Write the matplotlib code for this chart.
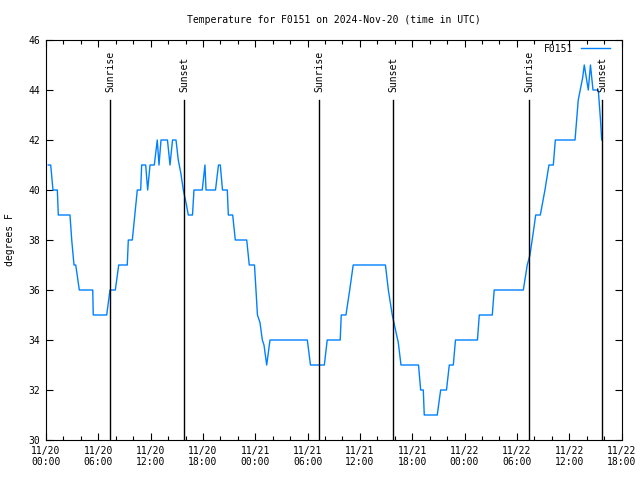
import pandas as pd
import matplotlib.pyplot as plt
import matplotlib.dates as mdates

plt.rcParams['font.family'] = ['DejaVu Sans Mono']
plt.rcParams['font.size'] = 7

# Data: hours after 2024-11-20 00:00 UTC, temperature in F
hours = [0.26, 0.54, 0.80, 1.30, 1.41, 2.75, 2.95, 3.21, 3.41, 3.82,
         5.36, 5.42, 6.96, 7.34, 7.95, 8.34, 9.32, 9.44, 9.90, 10.47,
         10.86, 10.97, 11.43, 11.66, 11.93, 12.42, 12.76, 12.96, 13.19, 13.93,
         14.22, 14.51, 14.91, 15.17, 15.45, 15.75, 16.11, 16.32, 16.80, 16.97,
         17.92, 18.23, 18.35, 19.44, 19.78, 19.99, 20.24, 20.79, 20.91, 21.41,
         21.71, 23.02, 23.31, 23.91, 24.08, 24.25, 24.54, 24.81, 25.00, 25.31,
         25.69, 29.97, 30.33, 31.92, 32.25, 33.74, 33.86, 34.40, 34.83, 35.23,
         38.93, 39.26, 39.71, 40.02, 40.40, 40.71, 42.72, 42.97, 43.27, 43.38,
         44.87, 45.26, 45.93, 46.25, 46.71, 46.96, 49.48, 49.69, 51.18, 51.40,
         54.74, 55.19, 55.50, 55.88, 56.16, 56.69, 57.22, 57.68, 58.18, 58.41,
         60.67, 61.04, 61.55, 61.73, 62.19, 62.44, 62.73, 63.34, 63.59, 63.73]
temps = [41, 41, 40, 40, 39, 39, 38, 37, 37, 36,
         36, 35, 35, 36, 36, 37, 37, 38, 38, 40,
         40, 41, 41, 40, 41, 41, 42, 41, 42, 42,
         41, 42, 42, 41.2, 40.7, 40, 39.4, 39, 39, 40,
         40, 41, 40, 40, 41, 41, 40, 40, 39, 39,
         38, 38, 37, 37, 36, 35, 34.7, 34, 33.8, 33,
         34, 34, 33, 33, 34, 34, 35, 35, 36, 37,
         37, 36, 35, 34.5, 33.9, 33, 33, 32, 32, 31,
         31, 32, 32, 33, 33, 34, 34, 35, 35, 36,
         36, 37, 37.4, 38.3, 39, 39, 40, 41, 41, 42,
         42, 43.6, 44.5, 45, 44, 45, 44, 44, 42.8, 42]

sunrise_hours = [7.37, 31.34, 55.42]
sunset_hours = [15.86, 39.83, 63.80]

start = pd.Timestamp("2024-11-20 00:00")
times = start + pd.to_timedelta(hours, unit="h")
sunrises = start + pd.to_timedelta(sunrise_hours, unit="h")
sunsets = start + pd.to_timedelta(sunset_hours, unit="h")

fig = plt.figure(figsize=(6.4, 4.8), dpi=100)
ax = fig.add_axes([46 / 640, 40 / 480, 575.5 / 640, 400 / 480])

ax.plot(times, temps, color="#0080ff", linewidth=1.0, label="F0151")

# Sunrise / sunset markers
trans = ax.get_xaxis_transform()
for t in sunrises:
    ax.axvline(t, ymin=0, ymax=0.85, color="black", linewidth=1.0)
    ax.text(t, 0.87, "Sunrise", rotation=90, ha="center", va="bottom", transform=trans)
for t in sunsets:
    ax.axvline(t, ymin=0, ymax=0.85, color="black", linewidth=1.0)
    ax.text(t, 0.87, "Sunset", rotation=90, ha="center", va="bottom", transform=trans)

ax.set_xlim(start, start + pd.Timedelta(hours=66))
ax.set_ylim(30, 46)
ax.set_yticks(range(30, 47, 2))

ax.xaxis.set_major_locator(mdates.HourLocator(byhour=[0, 6, 12, 18]))
ax.xaxis.set_minor_locator(mdates.HourLocator(byhour=range(0, 24, 2)))
ax.xaxis.set_major_formatter(mdates.DateFormatter("%m/%d\n%H:%M"))

ax.tick_params(which="both", direction="in", top=True, right=True, width=0.8)
ax.tick_params(which="major", length=5, pad=4)
ax.tick_params(which="minor", length=3)
for s in ax.spines.values():
    s.set_linewidth(0.8)

ax.legend(loc="upper right", bbox_to_anchor=(0.986, 1.0), frameon=False,
          markerfirst=False, handlelength=2.9, borderaxespad=0.1, borderpad=0.3)

fig.text(333.5 / 640, 1 - 20 / 480, "Temperature for F0151 on 2024-Nov-20 (time in UTC)",
         ha="center", va="center")
fig.text(10 / 640, 0.5, "degrees F", rotation=90, ha="center", va="center")

plt.savefig("out.png", dpi=100)
